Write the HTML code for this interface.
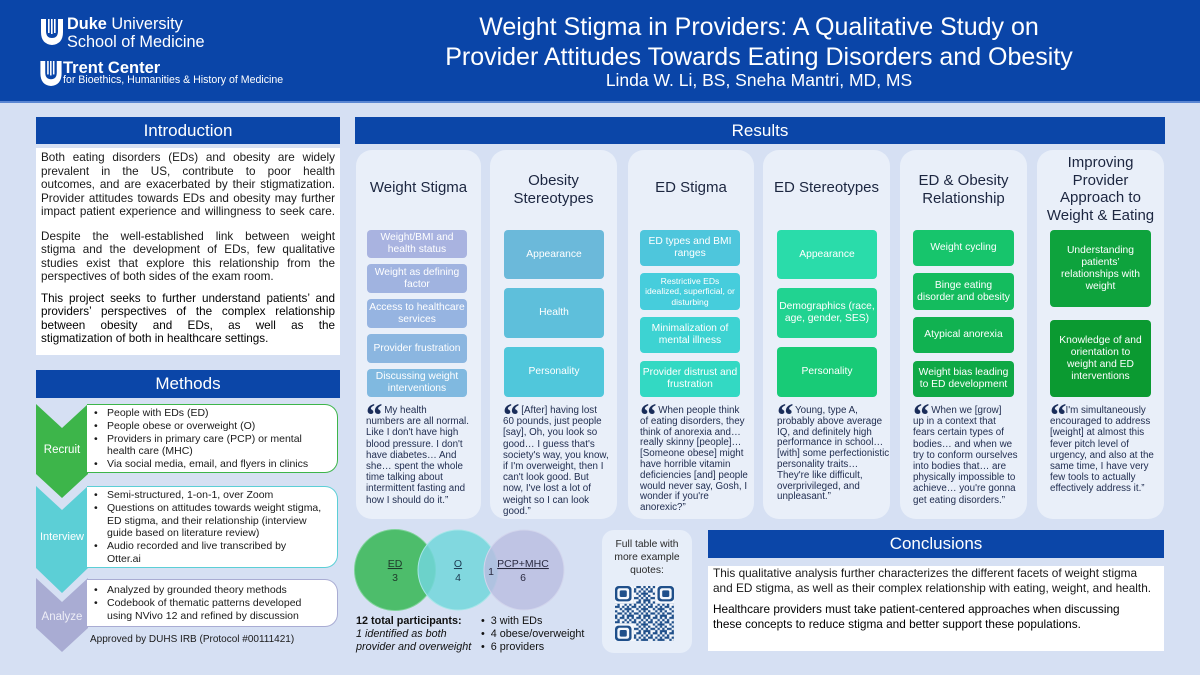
<!DOCTYPE html>
<html><head><meta charset="utf-8">
<style>
*{margin:0;padding:0;box-sizing:border-box}
body{width:1200px;height:675px;overflow:hidden;background:#d6e0f3;font-family:"Liberation Sans",sans-serif;position:relative}
.a{position:absolute}
.hdr{left:0;top:0;width:1200px;height:103px;background:#0a45a8;border-bottom:2px solid #5a86d2}
.bar{position:absolute;background:#0b46a8;color:#fff;text-align:center;font-size:17px}
.card{position:absolute;top:150px;height:369px;background:#e9eff9;border-radius:16px}
.tt{position:absolute;text-align:center;font-size:15px;line-height:17.5px;color:#1c2640}
.bx{position:absolute;display:flex;align-items:center;justify-content:center;text-align:center;color:#fff;font-size:10.3px;line-height:12px;border-radius:4px}
.q{position:absolute;top:403px;font-size:9.8px;line-height:11.2px;color:#1e2b4e;white-space:nowrap}
.qm{font-family:"Liberation Serif",serif;font-weight:bold;font-size:33px;line-height:0;position:relative;top:13px;color:#1a2d5a;letter-spacing:-1px}
.intro{left:36px;top:148px;width:304px;height:207px;background:#fff;padding:0 5px;font-size:11.7px;line-height:13.5px;color:#1a1a1a}
.j{text-align:justify;text-align-last:justify}
.mb{position:absolute;left:87px;width:251px;background:#fff;border-radius:0 13px 13px 0;font-size:10.5px;line-height:12.8px;color:#1a1a1a;white-space:nowrap}
.mb div{position:relative;padding-left:20px}
.mb div:before{content:"•";position:absolute;left:7px}
.cl{position:absolute;color:#fff;font-size:11.5px;text-align:center;width:52px;left:36px}
</style></head><body>

<div class="a hdr"></div>
<!-- Logos -->
<svg class="a" style="left:41px;top:19px" width="22" height="26" viewBox="0 0 22 26">
<path d="M0 0h5v12q0 7 6 7q6 0 6-7V0h5v13q0 12-11 13Q0 25 0 13z" fill="#fff"/>
<rect x="7" y="0" width="1.6" height="14" fill="#fff"/><rect x="10" y="0" width="1.6" height="15" fill="#fff"/><rect x="13" y="0" width="1.6" height="14" fill="#fff"/>
</svg>
<div class="a" style="left:67px;top:16px;color:#fff;font-size:16.3px;line-height:17.5px;white-space:nowrap"><b>Duke</b> University<br>School of Medicine</div>
<svg class="a" style="left:40px;top:61px" width="22" height="25" viewBox="0 0 22 26">
<path d="M0 0h5v12q0 7 6 7q6 0 6-7V0h5v13q0 12-11 13Q0 25 0 13z" fill="#fff"/>
<rect x="7" y="0" width="1.6" height="14" fill="#fff"/><rect x="10" y="0" width="1.6" height="15" fill="#fff"/><rect x="13" y="0" width="1.6" height="14" fill="#fff"/>
</svg>
<div class="a" style="left:63px;top:59px;color:#fff;font-size:16.5px;font-weight:bold;line-height:18px;white-space:nowrap">Trent Center</div>
<div class="a" style="left:63px;top:75px;color:#fff;font-size:10.6px;line-height:11px;white-space:nowrap">for Bioethics, Humanities &amp; History of Medicine</div>

<div class="a" style="left:359px;top:12px;width:800px;text-align:center;color:#fff;font-size:25px;line-height:30px;white-space:nowrap">Weight Stigma in Providers: A Qualitative Study on<br>Provider Attitudes Towards Eating Disorders and Obesity</div>
<div class="a" style="left:359px;top:70px;width:800px;text-align:center;color:#fff;font-size:17.5px;line-height:21px;white-space:nowrap">Linda W. Li, BS, Sneha Mantri, MD, MS</div>

<!-- Introduction -->
<div class="bar" style="left:36px;top:117px;width:304px;height:27px;line-height:27px">Introduction</div>
<div class="a intro">
<div style="height:3px"></div>
<div class="j">Both eating disorders (EDs) and obesity are widely</div>
<div class="j">prevalent in the US, contribute to poor health</div>
<div class="j">outcomes, and are exacerbated by their stigmatization.</div>
<div class="j">Provider attitudes towards EDs and obesity may further</div>
<div class="j">impact patient experience and willingness to seek care.</div>
<div style="height:11px"></div>
<div class="j">Despite the well-established link between weight</div>
<div class="j">stigma and the development of EDs, few qualitative</div>
<div class="j">studies exist that explore this relationship from the</div>
<div>perspectives of both sides of the exam room.</div>
<div style="height:8px"></div>
<div class="j" style="color:#000">This project seeks to further understand patients’ and</div>
<div class="j" style="color:#000">providers’ perspectives of the complex relationship</div>
<div class="j" style="color:#000">between obesity and EDs, as well as the</div>
<div style="color:#000">stigmatization of both in healthcare settings.</div>
</div>

<!-- Methods -->
<div class="bar" style="left:36px;top:370px;width:304px;height:28px;line-height:28px">Methods</div>
<svg class="a" style="left:0;top:0" width="400" height="675">
<polygon points="36,404 62,428 88,404 88,474 62,498 36,474" fill="#3db54a"/>
<polygon points="36,486 62,510 88,486 88,568 62,593 36,568" fill="#5ccfd6"/>
<polygon points="36,578 62,602 88,578 88,628 62,652 36,628" fill="#a9acd3"/>
</svg>
<div class="cl" style="top:444px">Recruit</div>
<div class="cl" style="top:531px;font-size:11px">Interview</div>
<div class="cl" style="top:611px;color:#eeeef7">Analyze</div>
<div class="mb" style="top:404px;height:69px;border:1px solid #3db54a;border-left:none;padding-top:2px">
<div>People with EDs (ED)</div>
<div>People obese or overweight (O)</div>
<div>Providers in primary care (PCP) or mental<br>health care (MHC)</div>
<div>Via social media, email, and flyers in clinics</div>
</div>
<div class="mb" style="top:486px;height:82px;border:1px solid #5ccfd6;border-left:none;padding-top:2px">
<div>Semi-structured, 1-on-1, over Zoom</div>
<div>Questions on attitudes towards weight stigma,<br>ED stigma, and their relationship (interview<br>guide based on literature review)</div>
<div>Audio recorded and live transcribed by<br>Otter.ai</div>
</div>
<div class="mb" style="top:579px;height:48px;border:1px solid #a9acd3;border-left:none;padding-top:4px">
<div>Analyzed by grounded theory methods</div>
<div>Codebook of thematic patterns developed<br>using NVivo 12 and refined by discussion</div>
</div>
<div class="a" style="left:90px;top:634px;font-size:10px;color:#1a1a1a;white-space:nowrap">Approved by DUHS IRB (Protocol #00111421)</div>

<!-- Results -->
<div class="bar" style="left:355px;top:117px;width:810px;height:27px;line-height:27px">Results</div>

<div class="card" style="left:356px;width:125px"></div>
<div class="card" style="left:490px;width:127px"></div>
<div class="card" style="left:628px;width:126px"></div>
<div class="card" style="left:763px;width:127px"></div>
<div class="card" style="left:900px;width:127px"></div>
<div class="card" style="left:1037px;width:127px"></div>

<div class="tt" style="left:356px;width:125px;top:179px">Weight Stigma</div>
<div class="tt" style="left:490px;width:127px;top:172px">Obesity<br>Stereotypes</div>
<div class="tt" style="left:628px;width:126px;top:179px">ED Stigma</div>
<div class="tt" style="left:763px;width:127px;top:179px">ED Stereotypes</div>
<div class="tt" style="left:900px;width:127px;top:172px">ED &amp; Obesity<br>Relationship</div>
<div class="tt" style="left:1037px;width:127px;top:154px">Improving<br>Provider<br>Approach to<br>Weight &amp; Eating</div>

<!-- card1 boxes -->
<div class="bx" style="left:367px;width:100px;top:230px;height:28px;background:#a9b3e0">Weight/BMI and<br>health status</div>
<div class="bx" style="left:367px;width:100px;top:264px;height:29px;background:#a0b3e0">Weight as defining<br>factor</div>
<div class="bx" style="left:367px;width:100px;top:299px;height:29px;background:#96b4e1">Access to healthcare<br>services</div>
<div class="bx" style="left:367px;width:100px;top:334px;height:29px;background:#8bb6e0">Provider frustration</div>
<div class="bx" style="left:367px;width:100px;top:369px;height:28px;background:#80b9e0">Discussing weight<br>interventions</div>
<!-- card2 -->
<div class="bx" style="left:504px;width:100px;top:230px;height:49px;background:#6bb9da">Appearance</div>
<div class="bx" style="left:504px;width:100px;top:288px;height:50px;background:#5ebfdb">Health</div>
<div class="bx" style="left:504px;width:100px;top:347px;height:50px;background:#50c7db">Personality</div>
<!-- card3 -->
<div class="bx" style="left:640px;width:100px;top:230px;height:36px;background:#4ec6dc">ED types and BMI<br>ranges</div>
<div class="bx" style="left:640px;width:100px;top:273px;height:37px;background:#46cddc;font-size:8.6px;line-height:10.5px">Restrictive EDs<br>idealized, superficial, or<br>disturbing</div>
<div class="bx" style="left:640px;width:100px;top:317px;height:36px;background:#3dd3d2">Minimalization of<br>mental illness</div>
<div class="bx" style="left:640px;width:100px;top:361px;height:36px;background:#33d9c3">Provider distrust and<br>frustration</div>
<!-- card4 -->
<div class="bx" style="left:777px;width:100px;top:230px;height:49px;background:#2adcaa">Appearance</div>
<div class="bx" style="left:777px;width:100px;top:288px;height:50px;background:#21d391">Demographics (race,<br>age, gender, SES)</div>
<div class="bx" style="left:777px;width:100px;top:347px;height:50px;background:#18cb77">Personality</div>
<!-- card5 -->
<div class="bx" style="left:913px;width:101px;top:230px;height:36px;background:#17c56c">Weight cycling</div>
<div class="bx" style="left:913px;width:101px;top:273px;height:37px;background:#14bc5e">Binge eating<br>disorder and obesity</div>
<div class="bx" style="left:913px;width:101px;top:317px;height:36px;background:#11b251">Atypical anorexia</div>
<div class="bx" style="left:913px;width:101px;top:361px;height:36px;background:#0fa946">Weight bias leading<br>to ED development</div>
<!-- card6 -->
<div class="bx" style="left:1050px;width:101px;top:230px;height:77px;background:#0ea33d">Understanding<br>patients’<br>relationships with<br>weight</div>
<div class="bx" style="left:1050px;width:101px;top:320px;height:77px;background:#0b9a31">Knowledge of and<br>orientation to<br>weight and ED<br>interventions</div>

<!-- quotes -->
<div class="q" style="left:366px"><span class="qm">“</span> My health<br>numbers are all normal.<br>Like I don't have high<br>blood pressure. I don't<br>have diabetes… And<br>she… spent the whole<br>time talking about<br>intermittent fasting and<br>how I should do it.”</div>
<div class="q" style="left:503px"><span class="qm">“</span> [After] having lost<br>60 pounds, just people<br>[say], Oh, you look so<br>good… I guess that's<br>society's way, you know,<br>if I'm overweight, then I<br>can't look good. But<br>now, I've lost a lot of<br>weight so I can look<br>good.”</div>
<div class="q" style="left:640px;line-height:10.8px"><span class="qm">“</span> When people think<br>of eating disorders, they<br>think of anorexia and…<br>really skinny [people]…<br>[Someone obese] might<br>have horrible vitamin<br>deficiencies [and] people<br>would never say, Gosh, I<br>wonder if you're<br>anorexic?”</div>
<div class="q" style="left:777px;line-height:10.8px"><span class="qm">“</span> Young, type A,<br>probably above average<br>IQ, and definitely high<br>performance in school…<br>[with] some perfectionistic<br>personality traits…<br>They're like difficult,<br>overprivileged, and<br>unpleasant.”</div>
<div class="q" style="left:913px"><span class="qm">“</span> When we [grow]<br>up in a context that<br>fears certain types of<br>bodies… and when we<br>try to conform ourselves<br>into bodies that… are<br>physically impossible to<br>achieve… you're gonna<br>get eating disorders.”</div>
<div class="q" style="left:1050px"><span class="qm">“</span>I'm simultaneously<br>encouraged to address<br>[weight] at almost this<br>fever pitch level of<br>urgency, and also at the<br>same time, I have very<br>few tools to actually<br>effectively address it.”</div>

<!-- Venn -->
<svg class="a" style="left:350px;top:525px" width="230" height="92" viewBox="0 0 230 92">
<circle cx="45" cy="45" r="40.5" fill="#4dbd6b" stroke="#7fd39a" stroke-width="1"/>
<circle cx="108" cy="45" r="40" fill="#72d6da" fill-opacity="0.85" stroke="#a6e6e8" stroke-width="1"/>
<circle cx="174" cy="45" r="40" fill="#b9bde0" fill-opacity="0.82" stroke="#d2d5ec" stroke-width="1"/>
<g font-family="Liberation Sans, sans-serif" font-size="10.5" fill="#1e3a2a" text-anchor="middle">
<text x="45" y="42" text-decoration="underline">ED</text><text x="45" y="56">3</text>
<text x="108" y="42" text-decoration="underline" fill="#1d3c52">O</text><text x="108" y="56" fill="#1d3c52">4</text>
<text x="173" y="42" text-decoration="underline" fill="#2a2a40">PCP+MHC</text><text x="173" y="56" fill="#2a2a40">6</text>
<text x="141" y="50" fill="#2a2a40">1</text>
</g>
</svg>
<div class="a" style="left:356px;top:615px;font-size:10.8px;line-height:13px;color:#111;white-space:nowrap"><b>12 total participants:</b><br><i>1 identified as both<br>provider and overweight</i></div>
<div class="a" style="left:481px;top:615px;font-size:10.8px;line-height:13px;color:#111;white-space:nowrap">•&nbsp; 3 with EDs<br>•&nbsp; 4 obese/overweight<br>•&nbsp; 6 providers</div>

<!-- QR box -->
<div class="a" style="left:602px;top:530px;width:90px;height:123px;background:#e7eef9;border-radius:12px"></div>
<div class="a" style="left:602px;top:538px;width:90px;text-align:center;font-size:10.3px;line-height:13px;color:#2a2a2a">Full table with<br>more example<br>quotes:</div>
<svg class="a" style="left:615px;top:586px" width="59" height="55" viewBox="0 0 25 25" preserveAspectRatio="none">
<defs><pattern id="qp" width="7" height="7" patternUnits="userSpaceOnUse">
<g fill="#1f4f8a">
<rect x="0" y="0" width="1" height="1"/><rect x="2" y="0" width="2" height="1"/><rect x="5" y="0" width="1" height="1"/>
<rect x="1" y="1" width="1" height="1"/><rect x="4" y="1" width="1" height="1"/><rect x="6" y="1" width="1" height="1"/>
<rect x="0" y="2" width="2" height="1"/><rect x="3" y="2" width="1" height="1"/><rect x="5" y="2" width="1" height="1"/>
<rect x="2" y="3" width="1" height="1"/><rect x="4" y="3" width="3" height="1"/>
<rect x="0" y="4" width="1" height="1"/><rect x="3" y="4" width="1" height="1"/><rect x="5" y="4" width="1" height="1"/>
<rect x="1" y="5" width="2" height="1"/><rect x="4" y="5" width="1" height="1"/><rect x="6" y="5" width="1" height="1"/>
<rect x="0" y="6" width="1" height="1"/><rect x="3" y="6" width="1" height="1"/><rect x="5" y="6" width="2" height="1"/>
</g></pattern></defs>
<rect x="0" y="0" width="25" height="25" fill="#f4f7fc"/>
<rect x="0" y="0" width="25" height="25" fill="url(#qp)"/>
<g>
<rect x="0" y="0" width="8" height="8" fill="#f4f7fc"/><rect x="17" y="0" width="8" height="8" fill="#f4f7fc"/><rect x="0" y="17" width="8" height="8" fill="#f4f7fc"/>
<rect x="0" y="0" width="7" height="7" rx="1.5" fill="#1f4f8a"/><rect x="1" y="1" width="5" height="5" rx="1" fill="#f4f7fc"/><rect x="2" y="2" width="3" height="3" rx=".6" fill="#1f4f8a"/>
<rect x="18" y="0" width="7" height="7" rx="1.5" fill="#1f4f8a"/><rect x="19" y="1" width="5" height="5" rx="1" fill="#f4f7fc"/><rect x="20" y="2" width="3" height="3" rx=".6" fill="#1f4f8a"/>
<rect x="0" y="18" width="7" height="7" rx="1.5" fill="#1f4f8a"/><rect x="1" y="19" width="5" height="5" rx="1" fill="#f4f7fc"/><rect x="2" y="20" width="3" height="3" rx=".6" fill="#1f4f8a"/>
</g>
</svg>

<!-- Conclusions -->
<div class="bar" style="left:708px;top:530px;width:456px;height:28px;line-height:28px">Conclusions</div>
<div class="a" style="left:708px;top:566px;width:456px;height:85px;background:#fff"></div>
<div class="a" style="left:713px;top:566px;font-size:11.8px;line-height:15px;color:#1a1a1a;white-space:nowrap">This qualitative analysis further characterizes the different facets of weight stigma<br>and ED stigma, as well as their complex relationship with eating, weight, and health.</div>
<div class="a" style="left:713px;top:602px;font-size:11.8px;line-height:15px;color:#000;white-space:nowrap">Healthcare providers must take patient-centered approaches when discussing<br>these concepts to reduce stigma and better support these populations.</div>

</body></html>
